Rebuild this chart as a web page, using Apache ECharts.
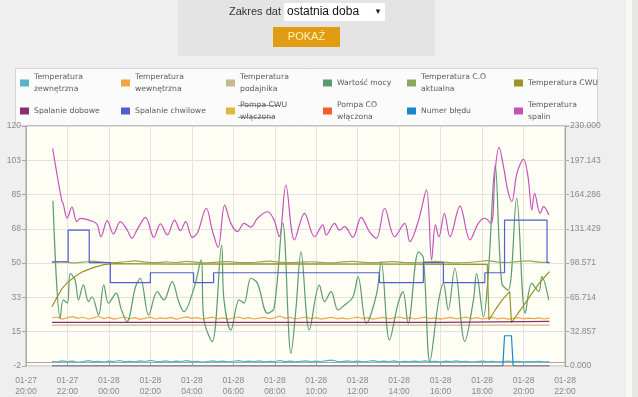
<!DOCTYPE html>
<html>
<head>
<meta charset="utf-8">
<script src="https://cdn.jsdelivr.net/npm/echarts@6/dist/echarts.min.js"></script>
<style>
  html, body { margin: 0; padding: 0; background: #efefef; }
  #chart { width: 638px; height: 397px; }
</style>
</head>
<body>
<div id="chart"></div>
<script>
// nazwy serii i podpisy legendy
var seriesNames = ['Temperatura zewnętrzna', 'Temperatura wewnętrzna', 'Temperatura podajnika', 'Wartość mocy',
    'Temperatura C.O aktualna', 'Temperatura CWU', 'Spalanie dobowe', 'Spalanie chwilowe',
    'Pompa CWU włączona', 'Pompa CO włączona', 'Numer błędu', 'Temperatura spalin'];
var legendLabels = ['Temperatura\nzewnętrzna', 'Temperatura\nwewnętrzna', 'Temperatura\npodajnika', 'Wartość mocy',
    'Temperatura C.O\naktualna', 'Temperatura CWU', 'Spalanie dobowe', 'Spalanie chwilowe',
    'Pompa CWU\nwłączona', 'Pompa CO\nwłączona', 'Numer błędu', 'Temperatura\nspalin'];
var colors = ['#55b3ca', '#f2a548', '#c9b98f', '#5c9a70', '#8fa95c', '#9a9424',
    '#8c2f6d', '#4f5fcc', '#e2b83c', '#f0602a', '#1a86cc', '#c552bb'];

// osie
var leftTicks = [-2, 120];
var rightTicks = [0, 230];

// siatka 15 min: temperatura zewnętrzna / wewnętrzna
var tempZew = [
    0.4, 0.1, 0.6, 0.2, 0.5, -0.1, 0.3, 0.7, 0.2, 0.4,
    0.0, 0.5, 0.3, 0.8, 0.2, 0.4, 0.1, 0.6, 0.3, 0.9,
    0.4, 0.2, 0.6, 0.1, 0.5, 0.3, 0.7, 0.2, 0.4, 0.0,
    0.3, 0.6, 0.2, 0.5, 0.1, 0.4, 0.7, 0.3, 0.5, 0.2,
    0.6, 0.1, 0.4, 0.3, 0.8, 0.2, 0.5, 0.1, 0.4, 0.6,
    0.2, 0.5, 0.3, 0.7, 1.0, 0.4, 0.2, 0.6, 0.3, 0.5,
    0.1, 0.4, 0.7, 0.2, 0.5, 0.3, 0.6, 0.1, 0.4, 0.2,
    0.5, 0.3, 0.6, 0.2, 0.4, 0.1, 0.5, 0.3, 0.6, 0.2,
    0.4, 0.0, 0.3, 0.5, 0.2, 0.4, 0.1, 0.3, 0.5, 0.2,
    0.4, 0.1, 0.3, 0.2, 0.4, 0.1, 0.3];
var tempWew = [
    22.4, 22.9, 21.8, 22.6, 23.1, 22.2, 22.8, 21.9, 22.5, 23.3,
    22.1, 22.7, 21.8, 22.4, 22.9, 22.0, 22.6, 21.7, 22.3, 22.8,
    21.9, 22.5, 22.1, 22.7, 21.8, 22.4, 23.0, 22.2, 22.6, 21.9,
    22.3, 22.8, 22.0, 22.5, 21.8, 22.4, 22.9, 22.1, 22.6, 21.9,
    22.3, 22.7, 22.0, 22.5, 23.4, 22.2, 22.8, 21.9, 22.4, 22.9,
    22.1, 22.6, 21.8, 22.3, 22.7, 22.0, 22.5, 21.9, 22.4, 22.8,
    22.1, 22.6, 21.8, 22.3, 22.7, 22.0, 22.5, 22.9, 22.2, 22.6,
    21.9, 22.4, 22.8, 22.1, 22.5, 21.8, 22.3, 22.7, 22.0, 22.4,
    22.8, 22.1, 22.6, 21.9, 22.3, 22.7, 22.0, 22.4, 21.8, 22.2,
    22.6, 22.0, 22.3, 22.1, 22.5, 21.9, 22.3];

// siatka 30 min: temperatura C.O aktualna
var tempCO = [
    50.6, 50.9, 50.4, 50.8, 51.3, 50.7, 50.5, 51.0, 51.4, 50.8,
    50.5, 50.9, 50.6, 51.2, 50.7, 50.4, 50.8, 51.1, 50.6, 50.5,
    50.9, 51.3, 50.7, 50.5, 50.8, 51.0, 50.6, 50.4, 50.9, 51.2,
    50.7, 50.5, 50.8, 51.1, 50.6, 50.5, 50.9, 51.2, 50.7, 50.4,
    50.6, 51.0, 51.6, 50.8, 50.6, 51.1, 51.4, 50.8, 50.7];

var podajnikT = ['27 21:15', '28 21:15'];
var podajnikV = [18.8, 18.8];

var dobowyT = ['27 21:15', '28 16:05', '28 16:10', '28 21:15'];
var dobowyV = [20.2, 20.2, 20.7, 20.7];

var mocT = ['27 21:18', '27 21:39', '27 21:48', '27 22:00', '27 22:08', '27 22:22', '27 22:32', '27 22:46',
    '27 23:01', '27 23:11', '27 23:30', '27 23:45', '27 23:59', '28 00:21', '28 00:35', '28 00:52',
    '28 01:17', '28 01:31', '28 01:55', '28 02:20', '28 02:39', '28 03:03', '28 03:22', '28 03:37',
    '28 04:06', '28 04:27', '28 04:35', '28 04:59', '28 05:26', '28 05:33', '28 05:53', '28 06:17',
    '28 06:31', '28 06:51', '28 07:10', '28 07:39', '28 07:58', '28 08:23', '28 08:47', '28 09:01',
    '28 09:16', '28 09:40', '28 10:09', '28 10:24', '28 10:43', '28 11:03', '28 11:22', '28 11:46',
    '28 12:01', '28 12:25', '28 12:54', '28 13:08', '28 13:32', '28 13:57', '28 14:11', '28 14:26',
    '28 14:56', '28 15:10', '28 15:29', '28 15:53', '28 16:08', '28 16:22', '28 16:41', '28 17:10',
    '28 17:35', '28 17:44', '28 18:04', '28 18:18', '28 18:38', '28 18:57', '28 19:16', '28 19:40',
    '28 20:05', '28 20:24', '28 20:44', '28 20:53', '28 21:13'];
var mocV = [82, 22.2, 31.6, 30, 45.1, 41.7, 31.6, 39.2,
    30.7, 33.2, 23.9, 39.2, 29.9, 35, 27.3, 20.5,
    38.3, 42.6, 23.9, 35.8, 31.6, 40.9, 30.7, 25.6,
    37.5, 51.9, 21.4, 10.4, 59.5, 31.6, 16.3, 31.6,
    30, 42.6, 40, 24.8, 27.3, 70.6, 4.4, 26.5,
    56, 16.3, 39.2, 30.7, 35.8, 26.5, 29, 33,
    43.4, 19.7, 34.1, 51, 11.2, 29.9, 35.8, 19.7,
    56, 53, 0.2, 29.9, 40, 26.5, 47.7, 10.4,
    31.6, 45, 23, 45, 100, 40, 36.6, 83.3,
    24.8, 40, 35.8, 43.4, 31.6];

var cwuT = ['27 21:15', '27 21:30', '27 21:45', '27 22:00', '27 22:15', '27 22:30', '27 22:45', '27 23:15',
    '27 23:45', '28 00:15', '28 03:00', '28 08:00', '28 13:00', '28 18:15', '28 18:20', '28 18:40',
    '28 19:00', '28 19:20', '28 19:25', '28 19:45', '28 20:05', '28 20:25', '28 20:45', '28 21:05', '28 21:15'];
var cwuV = [28.1, 33, 37.5, 40.5, 42.5, 44.5, 46, 48,
    49.5, 50, 49.8, 49.9, 49.8, 49.7, 21.5, 27,
    32, 35.8, 20, 25, 30, 35, 40, 44, 46];

var chwilT = ['27 21:15', '27 22:02', '27 23:03', '28 00:04', '28 02:00', '28 04:05', '28 05:03', '28 13:03',
    '28 15:10', '28 16:08', '28 18:08', '28 19:05', '28 21:08', '28 21:15'];
var chwilV = [51, 67.1, 50.5, 40.4, 45.4, 40.4, 45.4, 40.4, 50.5, 40.4, 45.4, 72.2, 50.5, 50.5];

var pompaCoT = ['27 21:15', '28 21:15'];
var pompaCoV = [0, 0];

var bladT = ['27 21:15', '28 19:00', '28 19:05', '28 19:25', '28 19:30', '28 21:15'];
var bladV = [0, 0, 29, 29, 0, 0];

var spalinT = ['27 21:17', '27 21:44', '27 21:47', '27 21:59', '27 22:13', '27 22:27', '27 22:37', '27 23:06',
    '27 23:25', '27 23:37', '27 23:55', '28 00:13', '28 00:33', '28 00:53', '28 01:07', '28 01:21',
    '28 01:46', '28 02:10', '28 02:29', '28 02:49', '28 03:10', '28 03:27', '28 03:42', '28 04:01',
    '28 04:16', '28 04:42', '28 04:59', '28 05:16', '28 05:35', '28 05:53', '28 06:12', '28 06:31',
    '28 06:51', '28 07:10', '28 07:39', '28 07:58', '28 08:13', '28 08:32', '28 08:57', '28 09:26',
    '28 09:55', '28 10:19', '28 10:29', '28 10:53', '28 11:07', '28 11:22', '28 11:46', '28 12:10',
    '28 12:34', '28 12:54', '28 13:18', '28 13:47', '28 14:16', '28 14:31', '28 14:55', '28 15:19',
    '28 15:34', '28 15:45', '28 15:55', '28 16:11', '28 16:27', '28 16:56', '28 17:25', '28 17:49',
    '28 18:08', '28 18:26', '28 18:38', '28 18:49', '28 19:02', '28 19:14', '28 19:26', '28 19:41',
    '28 20:00', '28 20:13', '28 20:24', '28 20:32', '28 20:48', '28 20:58', '28 21:13'];
var spalinV = [108.7, 81.5, 80.9, 73.2, 78.8, 71.4, 73, 71.9,
    70.2, 63.7, 71.9, 65.1, 71.4, 67.1, 62.9, 67.1,
    73.6, 63.4, 70.2, 64.6, 72.2, 66.8, 71.4, 63.4,
    65.6, 78.2, 67.1, 58.3, 79.8, 70.5, 66.3, 70.5,
    68.6, 73.1, 76.4, 72.2, 63.7, 90, 62.1, 75.6,
    63.7, 69.7, 64.6, 70.5, 67.1, 68.8, 63.4, 73.6,
    66.3, 62.9, 78.2, 63.7, 70.5, 61.2, 71.4, 87.5,
    51.9, 69.7, 63.7, 75.6, 63.7, 79.3, 62.1, 70.5,
    73.1, 70.5, 97.6, 109.2, 99.3, 87.5, 81.5, 96,
    103.1, 94.2, 77.3, 85.8, 75.6, 79, 74.8];

// pozycje legendy (lewy róg ikony, środek wiersza)
var legendX = [20, 121, 226, 323, 407, 514, 20, 121, 226, 323, 407, 514];
var legendRowY = [83, 83, 83, 83, 83, 83, 111, 111, 111, 111, 111, 111];

function t(s) {
    var p = s.split(/[ :]/);
    return new Date(2015, 0, +p[0], +p[1], +p[2]).getTime();
}
function pairs(times, vals) {
    return vals.map(function (v, i) { return [t(times[i]), v]; });
}
function grid(start, stepMin, vals) {
    var t0 = t(start);
    return vals.map(function (v, i) { return [t0 + i * stepMin * 60000, v]; });
}
function pad(n) { return n < 10 ? '0' + n : '' + n; }

var chart = echarts.init(document.getElementById('chart'));

var seriesData = [
    grid('27 21:15', 15, tempZew),
    grid('27 21:15', 15, tempWew),
    pairs(podajnikT, podajnikV),
    pairs(mocT, mocV),
    grid('27 21:15', 30, tempCO),
    pairs(cwuT, cwuV),
    pairs(dobowyT, dobowyV),
    pairs(chwilT, chwilV),
    [],
    pairs(pompaCoT, pompaCoV),
    pairs(bladT, bladV),
    pairs(spalinT, spalinV)
];
var onRight = [false, false, false, false, false, false, false, false, true, true, true, false];
var smoothOf = [0, 0, 0, 0.35, 0.3, 0, 0, 0, 0, 0, 0, 0.35];

var series = seriesNames.map(function (name, i) {
    return {
        name: name,
        type: 'line',
        yAxisIndex: onRight[i] ? 1 : 0,
        data: seriesData[i],
        showSymbol: false,
        smooth: smoothOf[i],
        step: name === 'Spalanie chwilowe' ? 'end' : false,
        lineStyle: { width: 1.2, color: colors[i] },
        itemStyle: { color: colors[i] },
        z: name === 'Temperatura spalin' ? 4 : 3,
        animation: false
    };
});

var legends = seriesNames.map(function (name, i) {
    var lines = legendLabels[i].split('\n').length;
    return {
        data: [name],
        left: legendX[i],
        top: legendRowY[i] - lines * 6,
        padding: 0,
        itemWidth: 9,
        itemHeight: 7,
        icon: 'rect',
        selectedMode: false,
        formatter: function () { return legendLabels[i]; },
        textStyle: { fontFamily: 'DejaVu Sans', fontSize: 7.7, lineHeight: 12, color: '#5a5a5a' }
    };
});

var xMin = t('27 20:00'), xMax = t('28 22:00');

chart.setOption({
    backgroundColor: '#efefef',
    animation: false,
    color: colors,
    legend: legends,
    grid: {
        left: 26, right: 73, top: 126, bottom: 31,
        show: true, backgroundColor: '#fffef5', borderColor: '#a8a8a8', borderWidth: 1
    },
    xAxis: {
        type: 'value',
        min: xMin, max: xMax, interval: 2 * 3600000,
        axisLine: { lineStyle: { color: '#a8a8a8' } },
        axisTick: { show: true, length: 3, lineStyle: { color: '#a8a8a8' } },
        splitLine: { lineStyle: { color: '#e2e2de' } },
        axisLabel: {
            margin: 9, fontFamily: 'Liberation Sans', fontSize: 8.5, lineHeight: 11, color: '#8a8a8a',
            formatter: function (v) {
                var d = new Date(v);
                return pad(d.getMonth() + 1) + '-' + pad(d.getDate()) + '\n' + pad(d.getHours()) + ':' + pad(d.getMinutes());
            }
        }
    },
    yAxis: [{
        type: 'value',
        min: leftTicks[0], max: leftTicks[1], interval: (leftTicks[1] - leftTicks[0]) / 7,
        axisLine: { show: true, lineStyle: { color: '#a8a8a8' } },
        axisTick: { show: true, length: 4, lineStyle: { color: '#a8a8a8' } },
        splitLine: { lineStyle: { color: '#e2e2de' } },
        axisLabel: {
            margin: 5, fontFamily: 'Liberation Sans', fontSize: 8.5, color: '#8a8a8a',
            formatter: function (v) { return Math.round(v); }
        }
    }, {
        type: 'value',
        min: rightTicks[0], max: rightTicks[1], interval: (rightTicks[1] - rightTicks[0]) / 7,
        axisLine: { show: true, lineStyle: { color: '#a8a8a8' } },
        axisTick: { show: true, length: 4, lineStyle: { color: '#a8a8a8' } },
        splitLine: { show: false },
        axisLabel: {
            margin: 5, fontFamily: 'Liberation Sans', fontSize: 8.5, color: '#8a8a8a',
            formatter: function (v) { return v.toFixed(3); }
        }
    }],
    graphic: [
        { type: 'rect', silent: true, z: -10, shape: { x: 178, y: 0, width: 257, height: 56 }, style: { fill: '#e4e4e4' } },
        { type: 'text', silent: true, z: -9, x: 229, y: 12, style: { text: 'Zakres dat', font: '11px "Liberation Sans"', fill: '#333', verticalAlign: 'middle' } },
        { type: 'rect', silent: true, z: -9, shape: { x: 284, y: 3, width: 101, height: 18 }, style: { fill: '#ffffff' } },
        { type: 'text', silent: true, z: -8, x: 287, y: 12, style: { text: 'ostatnia doba', font: '12px "Liberation Sans"', fill: '#111', verticalAlign: 'middle' } },
        { type: 'text', silent: true, z: -8, x: 378, y: 12, style: { text: '▾', font: '9px "DejaVu Sans"', fill: '#222', verticalAlign: 'middle', align: 'center' } },
        { type: 'rect', silent: true, z: -9, shape: { x: 273, y: 27, width: 67, height: 20 }, style: { fill: '#e29c14' } },
        { type: 'text', silent: true, z: -8, x: 306.5, y: 37, style: { text: 'POKAŻ', font: '11px "Liberation Sans"', fill: '#fff6b8', verticalAlign: 'middle', align: 'center' } },
        { type: 'rect', silent: true, z: -10, shape: { x: 626, y: 0, width: 6, height: 397 }, style: { fill: '#f8f8f8' } },
        { type: 'rect', silent: true, z: -10, shape: { x: 632, y: 0, width: 6, height: 397 }, style: { fill: '#e7e7e3' } },
        { type: 'rect', silent: true, z: -10, shape: { x: 15.5, y: 68.5, width: 582, height: 57 }, style: { fill: '#fbfbfb', stroke: '#d4d4d4', lineWidth: 1 } },
        // przekreślenie wyłączonej serii
        { type: 'line', silent: true, z: 10, shape: { x1: 238, y1: 105.5, x2: 280, y2: 105.5 }, style: { stroke: '#777', lineWidth: 0.8 } },
        { type: 'line', silent: true, z: 10, shape: { x1: 238, y1: 117.5, x2: 273, y2: 117.5 }, style: { stroke: '#777', lineWidth: 0.8 } }
    ],
    series: series
});
</script>
</body>
</html>
